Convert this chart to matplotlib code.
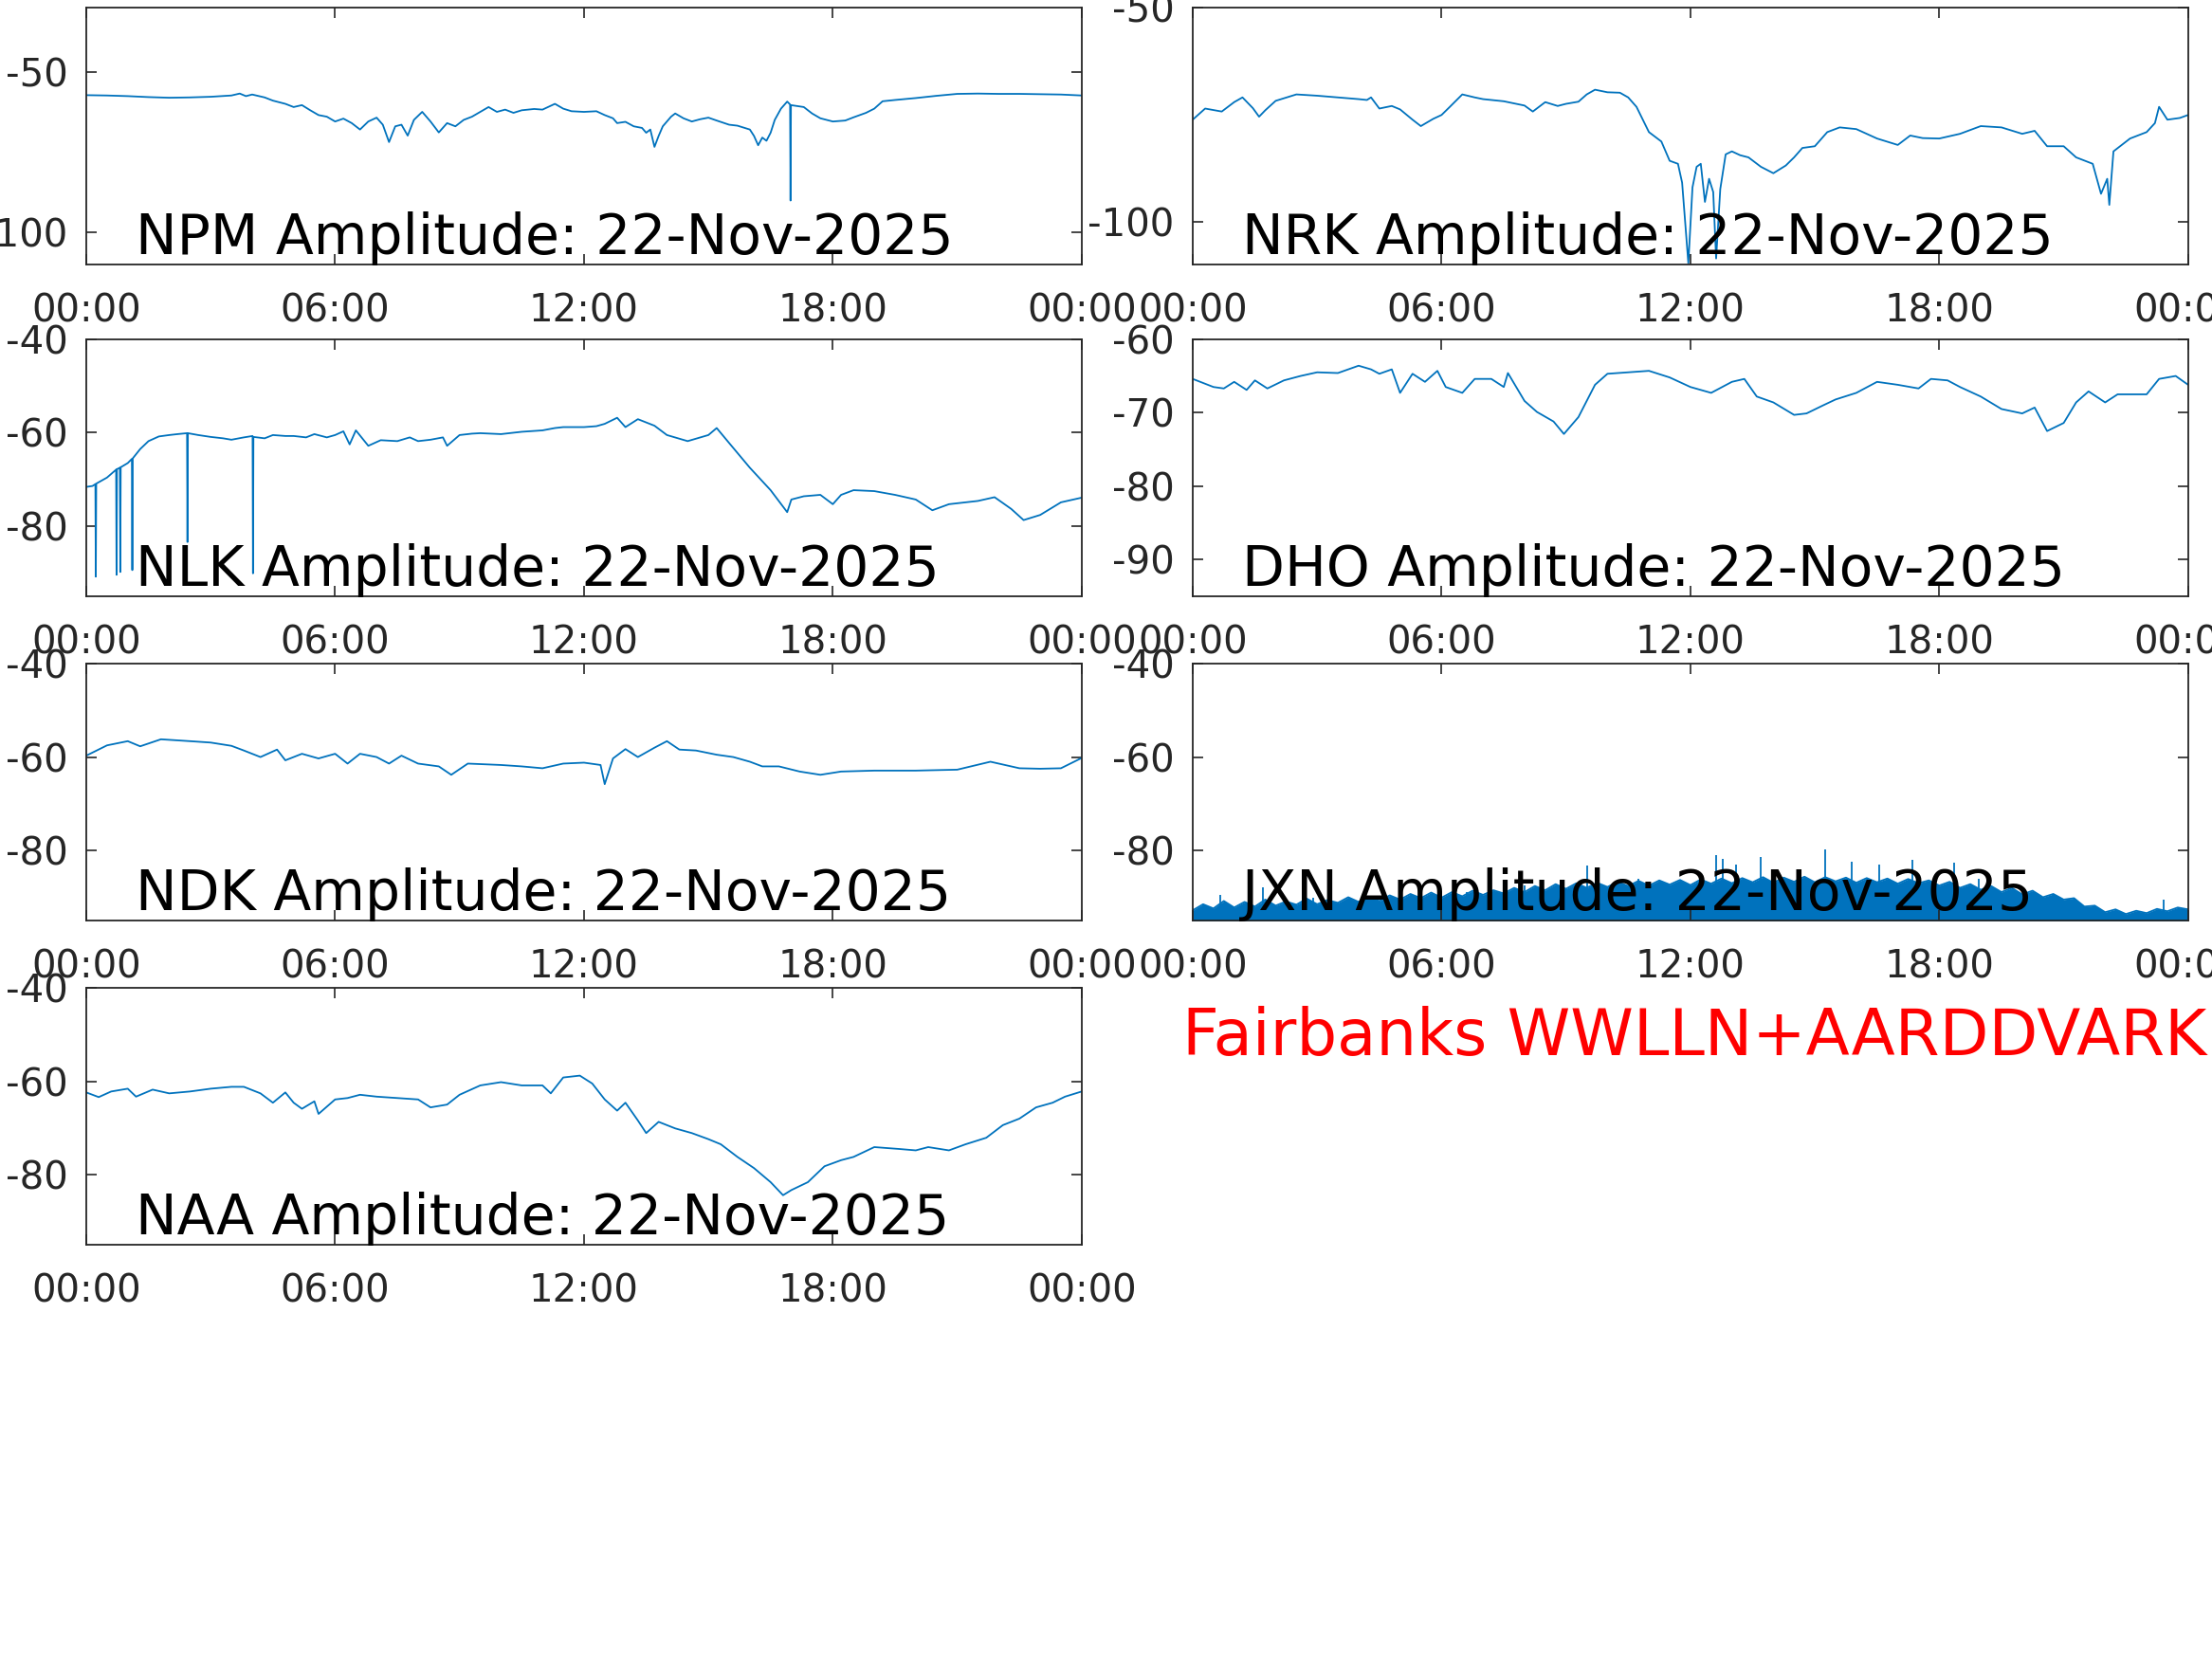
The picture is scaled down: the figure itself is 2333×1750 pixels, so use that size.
import matplotlib
matplotlib.use("Agg")
from matplotlib import pyplot

# amplitude traces, (hour of day, dB)
npm = [(0, -57.3), (0.5, -57.4), (1, -57.6), (1.5, -57.9), (2, -58.1), (2.5, -58.0), (3, -57.8),
       (3.5, -57.4), (3.7, -56.8), (3.85, -57.6), (4.0, -57.1), (4.3, -58.0), (4.5, -59.0),
       (4.8, -60.0), (5.0, -61.0), (5.2, -60.4), (5.4, -62.0), (5.6, -63.5), (5.8, -64.0),
       (6.0, -65.5), (6.2, -64.6), (6.4, -66.0), (6.6, -68.0), (6.8, -65.5), (7.0, -64.3),
       (7.15, -66.5), (7.3, -71.9), (7.45, -67.0), (7.6, -66.5), (7.75, -69.9), (7.9, -65.0),
       (8.1, -62.5), (8.3, -65.5), (8.5, -68.9), (8.7, -66.0), (8.9, -67.0), (9.1, -65.0),
       (9.3, -64.0), (9.5, -62.5), (9.7, -61.0), (9.9, -62.5), (10.1, -61.8), (10.3, -62.8),
       (10.5, -62.0), (10.8, -61.6), (11.0, -61.8), (11.3, -60.0), (11.5, -61.5), (11.7, -62.3),
       (12.0, -62.5), (12.3, -62.3), (12.5, -63.5), (12.7, -64.5), (12.8, -66.0), (13.0, -65.6),
       (13.2, -67.0), (13.4, -67.5), (13.5, -69.0), (13.6, -68.0), (13.7, -73.4), (13.8, -70.0),
       (13.9, -67.0), (14.1, -64.0), (14.2, -63.0), (14.4, -64.5), (14.6, -65.5), (14.8, -64.8),
       (15.0, -64.3), (15.2, -65.2), (15.5, -66.5), (15.7, -66.8), (16.0, -68.0), (16.1, -70.0),
       (16.2, -72.9), (16.3, -70.5), (16.4, -71.5), (16.5, -69.0), (16.6, -65.0), (16.75, -61.5),
       (16.9, -59.3), (16.97, -60.2), (16.98, -90.1), (16.99, -60.4), (17.3, -61.0), (17.5, -63.0),
       (17.7, -64.5), (18.0, -65.5), (18.3, -65.2), (18.5, -64.2), (18.8, -62.8), (19.0, -61.5),
       (19.2, -59.2), (19.5, -58.8), (20.0, -58.2), (20.5, -57.5), (21.0, -56.9), (21.5, -56.8),
       (22.0, -56.9), (22.5, -56.9), (23.0, -57.0), (23.5, -57.1), (24.0, -57.4)]

nrk = [(0, -76.2), (0.3, -73.6), (0.7, -74.3), (1.0, -72.1), (1.2, -71.0), (1.45, -73.5),
       (1.6, -75.5), (1.75, -74.0), (2.0, -71.8), (2.5, -70.3), (3.0, -70.6), (3.5, -71.0),
       (4.0, -71.4), (4.2, -71.6), (4.3, -71.0), (4.5, -73.6), (4.8, -73.0), (5.0, -73.8),
       (5.3, -76.2), (5.5, -77.7), (5.8, -76.0), (6.0, -75.1), (6.2, -73.2), (6.5, -70.3),
       (6.8, -71.0), (7.0, -71.4), (7.5, -71.9), (8.0, -72.9), (8.2, -74.3), (8.5, -72.1),
       (8.8, -73.0), (9.0, -72.5), (9.3, -72.0), (9.5, -70.3), (9.7, -69.2), (10.0, -69.8),
       (10.3, -69.9), (10.5, -71.0), (10.7, -73.2), (11.0, -79.1), (11.3, -81.3), (11.5, -85.8),
       (11.7, -86.5), (11.8, -90.9), (11.95, -109.7), (12.05, -92.0), (12.15, -87.2),
       (12.25, -86.5), (12.35, -95.4), (12.45, -90.0), (12.55, -93.1), (12.62, -108.6),
       (12.72, -92.4), (12.85, -84.3), (13.0, -83.6), (13.2, -84.5), (13.4, -85.0), (13.7, -87.2),
       (14.0, -88.7), (14.3, -86.9), (14.5, -85.0), (14.7, -82.8), (15.0, -82.4), (15.3, -79.1),
       (15.6, -78.0), (16.0, -78.4), (16.5, -80.6), (17.0, -82.1), (17.3, -79.9), (17.6, -80.5),
       (18.0, -80.6), (18.5, -79.5), (19.0, -77.7), (19.5, -78.0), (20.0, -79.5), (20.3, -78.8),
       (20.6, -82.4), (21.0, -82.4), (21.3, -85.0), (21.7, -86.5), (21.9, -93.5), (22.05, -90.0),
       (22.1, -96.1), (22.2, -83.6), (22.6, -80.6), (23.0, -79.1), (23.2, -77.0), (23.3, -73.2),
       (23.5, -76.2), (23.8, -75.8), (24.0, -75.1)]

nlk = [(0, -71.6), (0.15, -71.4), (0.22, -71.0), (0.23, -90.8), (0.24, -70.9), (0.5, -69.6),
       (0.72, -67.9), (0.73, -90.4), (0.74, -67.8), (0.81, -67.5), (0.82, -89.8), (0.83, -67.4),
       (1.0, -66.5), (1.1, -65.6), (1.11, -89.4), (1.12, -65.5), (1.3, -63.5), (1.5, -61.8),
       (1.75, -60.8), (2.0, -60.5), (2.2, -60.3), (2.43, -60.1), (2.44, -83.4), (2.45, -60.1),
       (2.7, -60.5), (3.0, -60.9), (3.3, -61.2), (3.5, -61.5), (3.8, -61.0), (4.01, -60.7),
       (4.02, -90.1), (4.03, -60.9), (4.3, -61.2), (4.5, -60.5), (4.8, -60.7), (5.0, -60.7),
       (5.3, -61.0), (5.5, -60.3), (5.8, -61.0), (6.0, -60.5), (6.2, -59.7), (6.35, -62.5),
       (6.5, -59.5), (6.8, -62.8), (7.1, -61.6), (7.5, -61.8), (7.8, -61.0), (8.0, -61.8),
       (8.3, -61.5), (8.6, -61.0), (8.7, -62.8), (9.0, -60.5), (9.3, -60.2), (9.5, -60.1),
       (10.0, -60.3), (10.5, -59.8), (11.0, -59.5), (11.3, -59.0), (11.5, -58.8), (12.0, -58.8),
       (12.3, -58.6), (12.5, -58.1), (12.8, -56.8), (13.0, -58.8), (13.3, -57.1), (13.7, -58.5),
       (14.0, -60.5), (14.5, -61.8), (15.0, -60.5), (15.2, -59.0), (15.5, -62.2), (16.0, -67.5),
       (16.5, -72.3), (16.9, -77.0), (17.0, -74.3), (17.3, -73.6), (17.7, -73.3), (18.0, -75.3),
       (18.2, -73.3), (18.5, -72.3), (19.0, -72.5), (19.5, -73.3), (20.0, -74.3), (20.4, -76.6),
       (20.8, -75.3), (21.5, -74.6), (21.9, -73.8), (22.3, -76.3), (22.6, -78.7), (23.0, -77.6),
       (23.5, -74.9), (24.0, -73.9)]

dho = [(0, -65.4), (0.5, -66.5), (0.75, -66.7), (1.0, -65.8), (1.3, -66.9), (1.5, -65.6),
       (1.8, -66.7), (2.2, -65.6), (2.6, -65.0), (3.0, -64.5), (3.5, -64.6), (4.0, -63.6),
       (4.3, -64.1), (4.5, -64.7), (4.8, -64.1), (5.0, -67.3), (5.3, -64.7), (5.6, -65.8),
       (5.9, -64.3), (6.1, -66.5), (6.5, -67.3), (6.8, -65.4), (7.2, -65.4), (7.5, -66.5),
       (7.6, -64.6), (8.0, -68.4), (8.3, -69.9), (8.7, -71.2), (8.95, -72.9), (9.3, -70.6),
       (9.7, -66.2), (10.0, -64.7), (10.5, -64.5), (11.0, -64.3), (11.5, -65.2), (12.0, -66.5),
       (12.5, -67.3), (13.0, -65.8), (13.3, -65.4), (13.6, -67.8), (14.0, -68.6), (14.5, -70.3),
       (14.8, -70.1), (15.2, -69.0), (15.5, -68.2), (16.0, -67.3), (16.5, -65.8), (17.0, -66.2),
       (17.5, -66.7), (17.8, -65.4), (18.2, -65.6), (18.5, -66.5), (19.0, -67.8), (19.5, -69.5),
       (20.0, -70.1), (20.3, -69.3), (20.6, -72.5), (21.0, -71.4), (21.3, -68.6), (21.6, -67.1),
       (22.0, -68.6), (22.3, -67.5), (23.0, -67.5), (23.3, -65.4), (23.7, -65.0), (24.0, -66.2)]

ndk = [(0, -59.7), (0.5, -57.5), (1.0, -56.6), (1.3, -57.7), (1.8, -56.2), (2.5, -56.6),
       (3.0, -56.9), (3.5, -57.6), (3.8, -58.6), (4.2, -60.0), (4.6, -58.4), (4.8, -60.7),
       (5.2, -59.3), (5.6, -60.3), (6.0, -59.3), (6.3, -61.4), (6.6, -59.3), (7.0, -60.0),
       (7.3, -61.4), (7.6, -59.7), (8.0, -61.4), (8.5, -62.0), (8.8, -63.8), (9.2, -61.4),
       (10.0, -61.7), (10.5, -62.0), (11.0, -62.4), (11.5, -61.4), (12.0, -61.2), (12.4, -61.7),
       (12.5, -65.8), (12.7, -60.3), (13.0, -58.3), (13.3, -60.0), (13.7, -58.0), (14.0, -56.6),
       (14.3, -58.4), (14.7, -58.6), (15.2, -59.5), (15.6, -60.0), (16.0, -61.0), (16.3, -62.0),
       (16.7, -62.0), (17.2, -63.1), (17.7, -63.8), (18.2, -63.1), (19.0, -62.9), (20.0, -62.9),
       (21.0, -62.7), (21.8, -61.0), (22.5, -62.4), (23.0, -62.5), (23.5, -62.4), (24.0, -60.2)]

# JXN is a noise band: upper edge of the band plus isolated spikes
jxn_band = [(0.0, -92.8), (0.25, -91.5), (0.5, -92.4), (0.75, -90.8), (1.0, -92.2), (1.25, -91.0),
            (1.5, -92.0), (1.75, -90.5), (2.0, -91.8), (2.25, -90.9), (2.5, -91.6), (2.75, -90.3),
            (3.0, -91.5), (3.25, -90.6), (3.5, -91.2), (3.75, -90.0), (4.0, -91.0), (4.25, -89.9),
            (4.5, -90.8), (4.75, -89.6), (5.0, -90.5), (5.25, -89.3), (5.5, -90.2), (5.75, -89.0),
            (6.0, -90.1), (6.25, -88.9), (6.5, -89.8), (6.75, -88.6), (7.0, -89.5), (7.25, -88.5),
            (7.5, -89.2), (7.75, -88.0), (8.0, -88.9), (8.25, -87.6), (8.5, -88.5), (8.75, -87.2),
            (9.0, -88.2), (9.25, -87.0), (9.5, -88.0), (9.75, -86.9), (10.0, -87.8), (10.25, -86.7),
            (10.5, -87.6), (10.75, -86.5), (11.0, -87.5), (11.25, -86.4), (11.5, -87.3), (11.75, -86.3),
            (12.0, -87.4), (12.25, -86.2), (12.5, -87.1), (12.75, -86.0), (13.0, -87.0), (13.25, -85.9),
            (13.5, -86.8), (13.75, -85.7), (14.0, -86.9), (14.25, -85.8), (14.5, -86.7), (14.75, -85.6),
            (15.0, -86.8), (15.25, -85.7), (15.5, -86.6), (15.75, -85.8), (16.0, -86.9), (16.25, -85.9),
            (16.5, -86.8), (16.75, -86.0), (17.0, -87.1), (17.25, -86.1), (17.5, -87.0), (17.75, -86.4),
            (18.0, -87.5), (18.25, -86.7), (18.5, -88.0), (18.75, -87.2), (19.0, -88.4), (19.25, -87.6),
            (19.5, -88.9), (19.75, -88.0), (20.0, -89.4), (20.25, -88.6), (20.5, -90.0), (20.75, -89.3),
            (21.0, -90.5), (21.25, -90.2), (21.5, -92.0), (21.75, -91.8), (22.0, -93.2), (22.25, -92.6),
            (22.5, -93.6), (22.75, -92.9), (23.0, -93.4), (23.25, -92.5), (23.5, -93.0), (23.75, -92.2),
            (24.0, -92.6)]
jxn_spikes = [(0.67, -89.5), (1.7, -87.8), (2.9, -90.2), (6.6, -88.8), (8.0, -87.5), (9.5, -83.2),
              (10.75, -86.1), (12.63, -81.0), (12.77, -81.7), (13.1, -83.1), (13.7, -81.4),
              (14.6, -84.7), (15.25, -79.7), (15.9, -82.4), (16.55, -83.1), (17.35, -81.9),
              (18.35, -82.7), (18.95, -86.1), (23.4, -90.5)]

naa = [(0, -62.4), (0.3, -63.4), (0.6, -62.2), (1.0, -61.6), (1.2, -63.3), (1.6, -61.8),
       (2.0, -62.6), (2.5, -62.2), (3.0, -61.6), (3.5, -61.2), (3.8, -61.2), (4.2, -62.6),
       (4.5, -64.6), (4.8, -62.4), (5.0, -64.6), (5.2, -65.9), (5.5, -64.3), (5.6, -67.0),
       (6.0, -63.9), (6.3, -63.6), (6.6, -62.9), (7.0, -63.3), (7.5, -63.6), (8.0, -63.9),
       (8.3, -65.6), (8.7, -65.0), (9.0, -62.9), (9.5, -60.9), (10.0, -60.2), (10.5, -60.9),
       (11.0, -60.9), (11.2, -62.6), (11.5, -59.2), (11.9, -58.8), (12.2, -60.5), (12.5, -63.9),
       (12.8, -66.3), (13.0, -64.6), (13.3, -68.4), (13.5, -71.1), (13.8, -68.7), (14.2, -70.1),
       (14.6, -71.1), (15.0, -72.4), (15.3, -73.5), (15.7, -76.2), (16.1, -78.6), (16.5, -81.6),
       (16.8, -84.4), (17.0, -83.3), (17.4, -81.6), (17.8, -78.2), (18.2, -76.9), (18.5, -76.2),
       (19.0, -74.1), (19.6, -74.5), (20.0, -74.8), (20.3, -74.1), (20.8, -74.8), (21.2, -73.5),
       (21.7, -72.1), (22.1, -69.4), (22.5, -68.0), (22.9, -65.6), (23.3, -64.6), (23.6, -63.3),
       (24.0, -62.2)]

hour_ticks = [0, 6, 12, 18, 24]
hour_labels = ["00:00", "06:00", "12:00", "18:00", "00:00"]
date_str = "22-Nov-2025"
site_str = "Fairbanks WWLLN+AARDDVARK"

# station, trace, y limits, y ticks
panels = [
    ("NPM", npm, (-110, -30), [-100, -50]),
    ("NRK", nrk, (-110, -50), [-100, -50]),
    ("NLK", nlk, (-95, -40), [-80, -60, -40]),
    ("DHO", dho, (-95, -60), [-90, -80, -70, -60]),
    ("NDK", ndk, (-95, -40), [-80, -60, -40]),
    ("JXN", None, (-95, -40), [-80, -60, -40]),
    ("NAA", naa, (-95, -40), [-80, -60, -40]),
]

line_color = "#0072BD"
axis_color = "#262626"

pyplot.rcParams["axes.unicode_minus"] = False
pyplot.rcParams["font.family"] = "DejaVu Sans"

fig = pyplot.figure(figsize=(23.33, 17.5), dpi=100)

lefts = [0.039, 0.5392]
bottoms = [0.8406, 0.6406, 0.4451, 0.2497]
width = 0.45
height = 0.1549

for k, (name, trace, ylim, yticks) in enumerate(panels):
    ax = fig.add_axes([lefts[k % 2], bottoms[k // 2], width, height])

    if trace is not None:
        hrs = [p[0] for p in trace]
        db = [p[1] for p in trace]
        ax.plot(hrs, db, color=line_color, lw=1.3)
    else:
        hrs = [p[0] for p in jxn_band]
        db = [p[1] for p in jxn_band]
        ax.fill_between(hrs, ylim[0] - 5, db, color=line_color, lw=0)
        ax.plot(hrs, db, color=line_color, lw=1.3)
        ax.vlines([p[0] for p in jxn_spikes], ylim[0] - 5, [p[1] for p in jxn_spikes],
                  color=line_color, lw=1.3)

    ax.set_xlim(0, 24)
    ax.set_ylim(*ylim)
    ax.set_xticks(hour_ticks)
    ax.set_xticklabels(hour_labels)
    ax.set_yticks(yticks)
    ax.set_yticklabels([str(t) for t in yticks])

    for s in ax.spines.values():
        s.set_color(axis_color)
        s.set_linewidth(1.3)
    ax.tick_params(axis="both", direction="in", length=8, width=1.2,
                   top=True, right=True, colors=axis_color, labelsize=29)
    ax.tick_params(axis="x", pad=21)
    ax.tick_params(axis="y", pad=14)

    ax.text(0.05, 0.04, "{} Amplitude: {}".format(name, date_str),
            transform=ax.transAxes, fontsize=42, color="black",
            ha="left", va="baseline", zorder=5)

fig.text(0.5345, 0.364, site_str, color="red", fontsize=48.5,
         ha="left", va="baseline")

fig.savefig("out.png", dpi=100)
